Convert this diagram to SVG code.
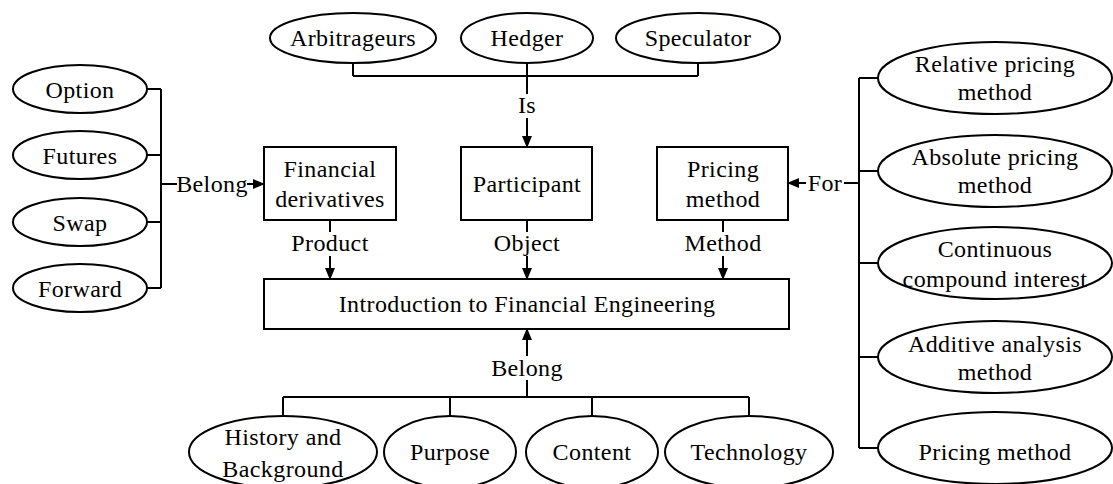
<svg xmlns="http://www.w3.org/2000/svg" width="1113" height="484" viewBox="0 0 1113 484">
<style>
.n{fill:#fff;stroke:#000;stroke-width:2}
.t{font-family:"Liberation Serif","Times New Roman",serif;font-size:24px;letter-spacing:0.4px;fill:#000;text-anchor:middle}
.c{fill:none;stroke:#000;stroke-width:2}
.bg{fill:#fff;stroke:none}
</style>
<defs>
<marker id="ah" markerUnits="userSpaceOnUse" markerWidth="12" markerHeight="10" refX="11" refY="5" orient="auto">
<path d="M0,0 L12,5 L0,10 z" fill="#000"/>
</marker>
</defs>
<rect width="1113" height="484" fill="#fff"/>
<g id="connectors">
<path class="c" d="M147,89 H161 M147,155 H161 M147,222 H161 M147,288 H161 M161,89 V288"/>
<path class="c" d="M161,184 H264" marker-end="url(#ah)"/>
<path class="c" d="M353,63 V76 M698,63 V76 M353,76 H698"/>
<path class="c" d="M527,63 V147" marker-end="url(#ah)"/>
<path class="c" d="M330,220 V279" marker-end="url(#ah)"/>
<path class="c" d="M527,220 V279" marker-end="url(#ah)"/>
<path class="c" d="M723,220 V279" marker-end="url(#ah)"/>
<path class="c" d="M859,78 V448 M859,78 H878 M859,171 H878 M859,263 H878 M859,357 H878 M859,448 H878"/>
<path class="c" d="M859,183 H788" marker-end="url(#ah)"/>
<path class="c" d="M527,397 V329" marker-end="url(#ah)"/>
<path class="c" d="M283,397 H749 M283,397 V416 M450,397 V416 M592,397 V416 M749,397 V416"/>
<rect class="bg" x="177" y="172" width="70" height="24"/>
<text class="t" x="212" y="192">Belong</text>
<rect class="bg" x="806" y="171" width="38" height="24"/>
<text class="t" x="825" y="191">For</text>
<rect class="bg" x="515" y="94" width="24" height="24"/>
<text class="t" x="527" y="113">Is</text>
<rect class="bg" x="289" y="232" width="82" height="24"/>
<text class="t" x="330" y="251">Product</text>
<rect class="bg" x="491" y="232" width="72" height="24"/>
<text class="t" x="527" y="251">Object</text>
<rect class="bg" x="682" y="232" width="82" height="24"/>
<text class="t" x="723" y="251">Method</text>
<rect class="bg" x="489" y="356" width="76" height="24"/>
<text class="t" x="527" y="376">Belong</text>
</g>
<g id="option"><ellipse class="n" cx="80" cy="89" rx="67" ry="24"/><text class="t" x="80" y="98">Option</text></g>
<g id="futures"><ellipse class="n" cx="80" cy="155" rx="67" ry="24"/><text class="t" x="80" y="164">Futures</text></g>
<g id="swap"><ellipse class="n" cx="80" cy="222" rx="67" ry="24"/><text class="t" x="80" y="231">Swap</text></g>
<g id="forward"><ellipse class="n" cx="80" cy="288" rx="67" ry="24"/><text class="t" x="80" y="297">Forward</text></g>
<g id="arbitrageurs"><ellipse class="n" cx="353" cy="38" rx="83" ry="25"/><text class="t" x="353" y="46">Arbitrageurs</text></g>
<g id="hedger"><ellipse class="n" cx="527" cy="38" rx="66" ry="25"/><text class="t" x="527" y="46">Hedger</text></g>
<g id="speculator"><ellipse class="n" cx="698" cy="38" rx="82" ry="25"/><text class="t" x="698" y="46">Speculator</text></g>
<g id="financial-derivatives"><rect class="n" x="264" y="147" width="132" height="73"/><text class="t" x="330" y="177">Financial</text><text class="t" x="330" y="207">derivatives</text></g>
<g id="participant"><rect class="n" x="461" y="147" width="131" height="73"/><text class="t" x="527" y="192">Participant</text></g>
<g id="pricing-method-box"><rect class="n" x="657" y="147" width="131" height="73"/><text class="t" x="723" y="177">Pricing</text><text class="t" x="723" y="207">method</text></g>
<g id="intro"><rect class="n" x="264" y="279" width="525" height="50"/><text class="t" x="527" y="312">Introduction to Financial Engineering</text></g>
<g id="relative"><ellipse class="n" cx="995" cy="78" rx="117" ry="36"/><text class="t" x="995" y="72">Relative pricing</text><text class="t" x="995" y="100">method</text></g>
<g id="absolute"><ellipse class="n" cx="995" cy="171" rx="117" ry="36"/><text class="t" x="995" y="165">Absolute pricing</text><text class="t" x="995" y="193">method</text></g>
<g id="continuous"><ellipse class="n" cx="995" cy="263" rx="117" ry="36"/><text class="t" x="995" y="257">Continuous</text><text class="t" x="995" y="287">compound interest</text></g>
<g id="additive"><ellipse class="n" cx="995" cy="357" rx="117" ry="36"/><text class="t" x="995" y="352">Additive analysis</text><text class="t" x="995" y="380">method</text></g>
<g id="pricing-method-ellipse"><ellipse class="n" cx="995" cy="448" rx="117" ry="36"/><text class="t" x="995" y="460">Pricing method</text></g>
<g id="history"><ellipse class="n" cx="283" cy="452" rx="94" ry="36"/><text class="t" x="283" y="445">History and</text><text class="t" x="283" y="477">Background</text></g>
<g id="purpose"><ellipse class="n" cx="450" cy="452" rx="66" ry="36"/><text class="t" x="450" y="460">Purpose</text></g>
<g id="content"><ellipse class="n" cx="592" cy="452" rx="66" ry="36"/><text class="t" x="592" y="460">Content</text></g>
<g id="technology"><ellipse class="n" cx="749" cy="452" rx="84" ry="36"/><text class="t" x="749" y="460">Technology</text></g>
</svg>
